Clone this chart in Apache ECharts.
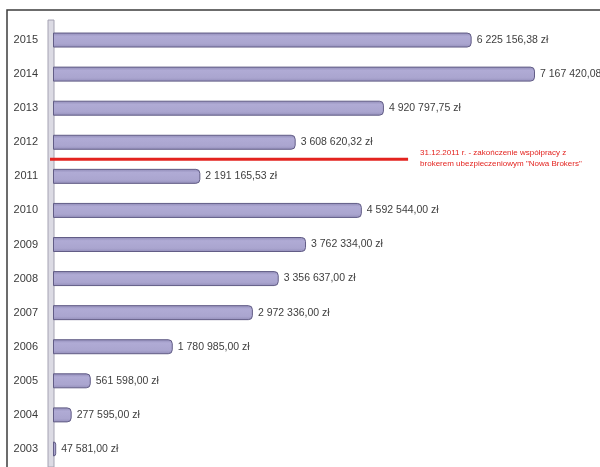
<!DOCTYPE html>
<html>
<head>
<meta charset="utf-8">
<script src="https://cdn.jsdelivr.net/npm/echarts@6/dist/echarts.min.js"></script>
<style>
  html, body { margin: 0; padding: 0; background: #fff; }
  #chart { width: 600px; height: 467px; }
</style>
</head>
<body>
<div id="chart"></div>
<script>
// Yearly totals (PLN), bottom to top on the category axis
const years = ['2003', '2004', '2005', '2006', '2007', '2008', '2009', '2010', '2011', '2012', '2013', '2014', '2015'];
const amounts = [47581.00, 277595.00, 561598.00, 1780985.00, 2972336.00, 3356637.00, 3762334.00,
                 4592544.00, 2191165.53, 3608620.32, 4920797.75, 7167420.08, 6225156.38];

// Event marker between 2012 and 2011
const markerBetween = ['2012', '2011'];
const markerEndValue = 5280000;
const markerText = ['31.12.2011 r. - zakończenie współpracy z', 'brokerem ubezpieczeniowym "Nowa Brokers"'];

function formatPLN(v) {
  const parts = v.toFixed(2).split('.');
  const intPart = parts[0].replace(/\B(?=(\d{3})+(?!\d))/g, ' ');
  return intPart + ',' + parts[1] + ' zł';
}

const chart = echarts.init(document.getElementById('chart'), null, { renderer: 'canvas' });

chart.setOption({
  animation: false,
  backgroundColor: '#ffffff',
  grid: { left: 53, right: 9, top: 23, bottom: 1, containLabel: false },
  xAxis: {
    type: 'value', min: 0, max: 8000000,
    show: false
  },
  yAxis: {
    type: 'category',
    data: years,
    axisLine: { show: true, lineStyle: { color: '#9a98a8', width: 2 } },
    axisTick: { show: true, length: 4, lineStyle: { color: '#b0aebc' } },
    axisLabel: {
      color: '#3a3a3a', fontSize: 11, fontFamily: 'Liberation Sans', margin: 15
    }
  },
  series: [{
    type: 'bar',
    data: amounts,
    barWidth: 15,
    itemStyle: {
      color: new echarts.graphic.LinearGradient(0, 0, 0, 1, [
        { offset: 0, color: '#8f8ab6' },
        { offset: 0.25, color: '#b0abd5' },
        { offset: 0.75, color: '#aaa5cf' },
        { offset: 1, color: '#928db9' }
      ]),
      borderColor: '#625d86',
      borderWidth: 1,
      borderRadius: [0, 4, 4, 0]
    },
    label: {
      show: true, position: 'right', distance: 5,
      color: '#404040', fontSize: 10.5, fontFamily: 'Liberation Sans',
      formatter: p => formatPLN(p.value)
    }
  }]
});

// Frame, axis wall and the event marker placed through the chart's own scales
const yA = chart.convertToPixel({ yAxisIndex: 0 }, markerBetween[0]);
const yB = chart.convertToPixel({ yAxisIndex: 0 }, markerBetween[1]);
const yMark = (yA + yB) / 2;
const x0 = chart.convertToPixel({ xAxisIndex: 0 }, 0);
const x1 = chart.convertToPixel({ xAxisIndex: 0 }, markerEndValue);
const yTop = chart.convertToPixel({ yAxisIndex: 0 }, years[years.length - 1]) - 20;

chart.setOption({
  graphic: [
    {
      type: 'rect', z: 0, silent: true,
      shape: { x: 7, y: 10, width: 600, height: 470 },
      style: { fill: 'none', stroke: '#3c3c3c', lineWidth: 1.5 }
    },
    {
      type: 'rect', z: 1, silent: true,
      shape: { x: x0 - 5, y: yTop, width: 6, height: 467 - yTop },
      style: { fill: '#dcdbe4', stroke: '#a4a2b2', lineWidth: 1 }
    },
    {
      type: 'line', z: 10, silent: true,
      shape: { x1: x0 - 3, y1: yMark, x2: x1, y2: yMark },
      style: { stroke: '#e3231f', lineWidth: 3 }
    },
    {
      type: 'text', z: 10, silent: true,
      x: x1 + 12, y: yMark - 12,
      style: {
        text: markerText.join('\n'),
        fill: '#e3231f', fontSize: 8, fontFamily: 'Liberation Sans', lineHeight: 11
      }
    }
  ]
});
</script>
</body>
</html>
